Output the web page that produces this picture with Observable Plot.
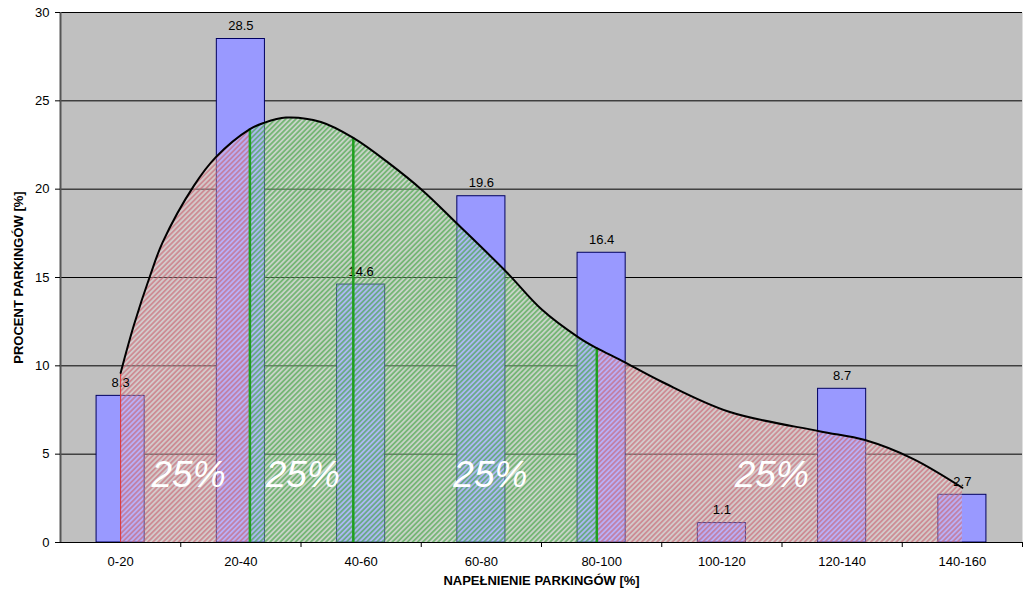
<!DOCTYPE html>
<html>
<head>
<meta charset="utf-8">
<script src="https://cdn.jsdelivr.net/npm/d3@7"></script>
<script src="https://cdn.jsdelivr.net/npm/@observablehq/plot@0.6"></script>
<style>
  html, body { margin: 0; padding: 0; background: white; }
</style>
</head>
<body>
<div id="chart"></div>
<script>
// ---- data ----
const categories = ["0-20", "20-40", "40-60", "60-80", "80-100", "100-120", "120-140", "140-160"];
const percentages = [8.3, 28.5, 14.6, 19.6, 16.4, 1.1, 8.7, 2.7];
const yTicks = [0, 5, 10, 15, 20, 25, 30];

// density curve (x in filling %, y in %)
const curveX = [10, 12.2, 15, 17, 22.2, 25.8, 31.5, 33.8, 37.5, 43.3, 48.7, 54.5, 60.3, 65.8, 74.2, 80, 86.2, 89.2, 93.3, 100, 111.2, 126.2, 133.8, 141.7, 150];
const curveY = [9.6, 12.3, 15.2, 17.0, 20.2, 21.8, 23.4, 23.75, 24.05, 23.8, 22.9, 21.5, 19.9, 18.1, 15.3, 13.2, 11.6, 11.0, 10.3, 9.1, 7.4, 6.3, 5.8, 4.75, 3.1];

// quartile boundaries (start, Q1, median, Q3, end)
const quartileBounds = [10, 31.5, 48.7, 89.2, 150];
const quartileLabel = "25%";
const quartileLabelX = [21.3, 40.3, 71.5, 118.3];
const quartileLabelY = 3.8;

const yTitle = "PROCENT PARKINGÓW [%]";
const xTitle = "NAPEŁNIENIE PARKINGÓW [%]";

// ---- derived tables ----
const bars = categories.map((c, i) => {
  const [lo, hi] = c.split("-").map(Number);
  return {c, lo, hi, mid: (lo + hi) / 2, v: percentages[i]};
});
const curve = curveX.map((x, i) => ({x, y: curveY[i]}));
const [qStart, q1, q2, q3, qEnd] = quartileBounds;
const redLeft = curve.filter(d => d.x >= qStart && d.x <= q1);
const greenMid = curve.filter(d => d.x >= q1 && d.x <= q3);
const redRight = curve.filter(d => d.x >= q3 && d.x <= qEnd);
const yAt = x => curve.find(d => d.x === x).y;
const redRules = [qStart].map(x => ({x, y: yAt(x)}));
const greenRules = [q1, q2, q3].map(x => ({x, y: yAt(x)}));
const labelFor = m => (bars.find(b => b.mid === m) || {}).c || "";

const FONT = "'Liberation Sans', Arial, sans-serif";
const CURVE = "catmull-rom";

const chart = Plot.plot({
  width: 1024,
  height: 606,
  marginLeft: 60,
  marginRight: 2,
  marginTop: 12,
  marginBottom: 64,
  style: {fontFamily: FONT, fontSize: "13px", color: "black", background: "white"},
  x: {domain: [0, 160]},
  y: {domain: [0, 30]},
  marks: [
    Plot.frame({fill: "#C0C0C0"}),
    Plot.gridY({ticks: yTicks.filter(t => t > 0), stroke: "#000", strokeOpacity: 1, strokeWidth: 1}),
    Plot.rect(bars, {
      x1: d => d.lo + 0.3 * (d.hi - d.lo),
      x2: d => d.lo + 0.7 * (d.hi - d.lo),
      y1: 0, y2: "v",
      fill: "#9999FF", stroke: "#000060", strokeWidth: 1
    }),
    Plot.areaY(redLeft, {x: "x", y: "y", fill: "url(#hatchRed)", curve: CURVE}),
    Plot.areaY(greenMid, {x: "x", y: "y", fill: "url(#hatchGreen)", curve: CURVE}),
    Plot.areaY(redRight, {x: "x", y: "y", fill: "url(#hatchRed)", curve: CURVE}),
    Plot.text(bars, {x: "mid", y: "v", text: d => String(d.v), dy: -13, fontSize: 13, fill: "#000"}),
    Plot.ruleX(redRules, {x: "x", y1: 0, y2: "y", stroke: "#E03030", strokeWidth: 1}),
    Plot.ruleX(greenRules, {x: "x", y1: 0, y2: "y", stroke: "#1FA01F", strokeWidth: 2.5}),
    Plot.line(curve, {x: "x", y: "y", stroke: "#000", strokeWidth: 2, curve: CURVE}),
    Plot.text(quartileLabelX, {x: d => d, y: quartileLabelY, text: () => quartileLabel, fill: "white", fontSize: 37, fontStyle: "italic"}),
    Plot.ruleY([0], {stroke: "#000", strokeWidth: 1}),
    Plot.ruleX([0], {stroke: "#555", strokeWidth: 2}),
    Plot.axisY({ticks: yTicks, tickSize: 5, tickPadding: 6, fontSize: 13, label: null}),
    Plot.axisX({ticks: bars.map(b => b.mid), tickFormat: labelFor, tickSize: 0, tickPadding: 14, fontSize: 13, label: null}),
    Plot.axisX({ticks: bars.map(b => b.hi), tickFormat: () => "", tickSize: 5, label: null}),
    Plot.text([yTitle], {frameAnchor: "left", textAnchor: "middle", lineAnchor: "middle", rotate: -90, dx: -42, fontWeight: "bold", fontSize: 13}),
    Plot.text([xTitle], {frameAnchor: "bottom", lineAnchor: "middle", dy: 38, fontWeight: "bold", fontSize: 13})
  ]
});

const defs = `
<defs>
  <pattern id="hatchRed" patternUnits="userSpaceOnUse" width="3.6" height="3.6" patternTransform="rotate(45)">
    <rect width="3.6" height="3.6" fill="#FFE4E4" fill-opacity="0.3"></rect>
    <line x1="1.8" y1="0" x2="1.8" y2="3.6" stroke="#C8606E" stroke-width="1.05"></line>
  </pattern>
  <pattern id="hatchGreen" patternUnits="userSpaceOnUse" width="3.6" height="3.6" patternTransform="rotate(45)">
    <rect width="3.6" height="3.6" fill="#D8FFD8" fill-opacity="0.3"></rect>
    <line x1="1.8" y1="0" x2="1.8" y2="3.6" stroke="#3CA03C" stroke-width="1.05"></line>
  </pattern>
</defs>`;
chart.insertAdjacentHTML("afterbegin", defs);
document.getElementById("chart").appendChild(chart);
</script>
</body>
</html>
